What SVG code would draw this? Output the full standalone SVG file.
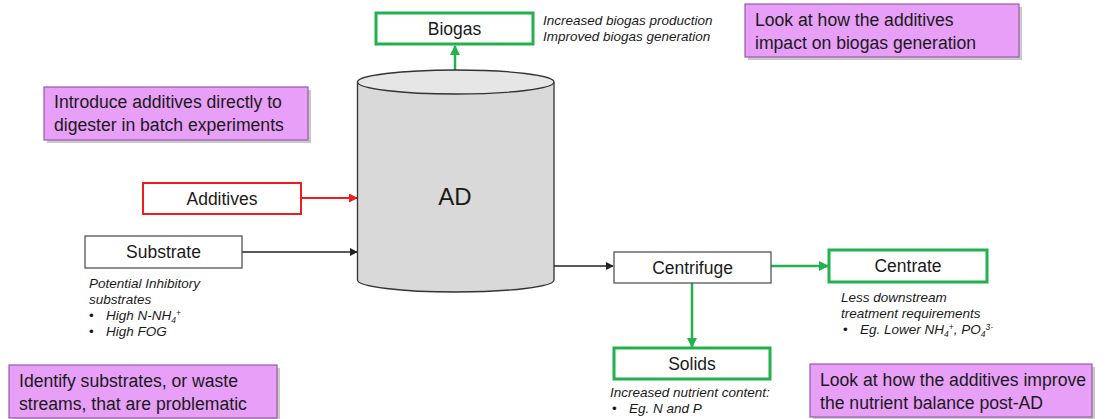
<svg xmlns="http://www.w3.org/2000/svg" width="1119" height="419" viewBox="0 0 1119 419">
<defs>
<style>
text{font-family:"Liberation Sans",Arial,sans-serif;fill:#1a1a1a}
.lbl{font-size:17.5px;text-anchor:middle}
.note{font-size:17.6px}
.it{font-size:13.5px;font-style:italic}
.pbox{fill:#e79ff7;stroke:#9a5aa8;stroke-width:1.2}
.shadow{fill:#888;opacity:0.45}
.gbox{fill:#fff;stroke:#22b14c;stroke-width:3}
.rbox{fill:#fff;stroke:#ee1c1c;stroke-width:2}
.bbox{fill:#fff;stroke:#555;stroke-width:1.3}
.cg{stroke:#22b14c;stroke-width:2.5;fill:none}
.cr{stroke:#ee1c1c;stroke-width:2;fill:none}
.ck{stroke:#222;stroke-width:1.3;fill:none}
</style>
<marker id="ag" viewBox="0 0 10 10" refX="9" refY="5" markerWidth="4" markerHeight="4" orient="auto" markerUnits="strokeWidth"><path d="M0,0L10,5L0,10z" fill="#22b14c"/></marker>
<marker id="ar" viewBox="0 0 10 10" refX="9" refY="5" markerWidth="4.5" markerHeight="4.5" orient="auto" markerUnits="strokeWidth"><path d="M0,0L10,5L0,10z" fill="#ee1c1c"/></marker>
<marker id="ak" viewBox="0 0 10 10" refX="9" refY="5" markerWidth="6" markerHeight="6" orient="auto" markerUnits="strokeWidth"><path d="M0,0L10,5L0,10z" fill="#222"/></marker>
</defs>
<rect width="1119" height="419" fill="#fff"/>

<g id="connectors">
<line class="cg" x1="455" y1="77" x2="455" y2="46" marker-end="url(#ag)"/>
<line class="cr" x1="301" y1="198" x2="357" y2="198" marker-end="url(#ar)"/>
<line class="ck" x1="242" y1="252" x2="357" y2="252" marker-end="url(#ak)"/>
<line class="ck" x1="554" y1="266" x2="613" y2="266" marker-end="url(#ak)"/>
<line class="cg" x1="771" y1="266" x2="828" y2="266" marker-end="url(#ag)"/>
<line class="cg" x1="692" y1="283" x2="692" y2="347" marker-end="url(#ag)"/>
</g>

<g id="AD">
<path d="M357.5,82 L357.5,280 A98.25,12 0 0 0 554,280 L554,82" fill="#d9d9d9" stroke="#333" stroke-width="1.3"/>
<ellipse cx="455.75" cy="82" rx="98.25" ry="12" fill="#e6e6e6" stroke="#333" stroke-width="1.3"/>
<text x="455" y="205" font-size="24" text-anchor="middle">AD</text>
</g>

<g id="Biogas">
<rect class="gbox" x="376" y="13" width="157" height="31"/>
<text class="lbl" x="454.5" y="35">Biogas</text>
<text class="it" x="543" y="25">Increased biogas production</text>
<text class="it" x="543" y="41">Improved biogas generation</text>
</g>

<g id="Additives">
<rect class="rbox" x="143" y="183" width="158" height="31"/>
<text class="lbl" x="222" y="205">Additives</text>
</g>

<g id="Substrate">
<rect class="bbox" x="85" y="236" width="157" height="32"/>
<text class="lbl" x="163.5" y="258">Substrate</text>
<text class="it" x="89" y="288">Potential Inhibitory</text>
<text class="it" x="89" y="304">substrates</text>
<text class="it" x="89" y="320"><tspan font-style="normal">•</tspan><tspan x="106">High N-NH</tspan><tspan font-size="8.5" dy="3">4</tspan><tspan font-size="8.5" dy="-7">+</tspan></text>
<text class="it" x="89" y="336"><tspan font-style="normal">•</tspan><tspan x="106">High FOG</tspan></text>
</g>

<g id="Centrifuge">
<rect class="bbox" x="614" y="252" width="157" height="31"/>
<text class="lbl" x="692.5" y="274">Centrifuge</text>
</g>

<g id="Centrate">
<rect class="gbox" x="829" y="250" width="158" height="32"/>
<text class="lbl" x="908" y="272">Centrate</text>
<text class="it" x="841" y="302">Less downstream</text>
<text class="it" x="841" y="318">treatment requirements</text>
<text class="it" x="843" y="334"><tspan font-style="normal">•</tspan><tspan x="860">Eg. Lower NH</tspan><tspan font-size="8.5" dy="3">4</tspan><tspan font-size="8.5" dy="-7">+</tspan><tspan dy="4">, PO</tspan><tspan font-size="8.5" dy="3">4</tspan><tspan font-size="8.5" dy="-7">3-</tspan></text>
</g>

<g id="Solids">
<rect class="gbox" x="614" y="348" width="156" height="31"/>
<text class="lbl" x="692" y="370">Solids</text>
<text class="it" x="610" y="397">Increased nutrient content:</text>
<text class="it" x="612" y="413"><tspan font-style="normal">•</tspan><tspan x="629">Eg. N and P</tspan></text>
</g>

<g id="note-introduce">
<rect class="shadow" x="47" y="90" width="264" height="53"/>
<rect class="pbox" x="44" y="87" width="264" height="53"/>
<text class="note" x="54" y="108">Introduce additives directly to</text>
<text class="note" x="54" y="131">digester in batch experiments</text>
</g>

<g id="note-biogas">
<rect class="shadow" x="748" y="7" width="274" height="53"/>
<rect class="pbox" x="745" y="4" width="274" height="53"/>
<text class="note" x="755" y="26">Look at how the additives</text>
<text class="note" x="755" y="49">impact on biogas generation</text>
</g>

<g id="note-substrates">
<rect class="shadow" x="12" y="368" width="268" height="53"/>
<rect class="pbox" x="9" y="365" width="268" height="53"/>
<text class="note" x="19" y="387">Identify substrates, or waste</text>
<text class="note" x="19" y="410">streams, that are problematic</text>
</g>

<g id="note-nutrient">
<rect class="shadow" x="813" y="367" width="282" height="53"/>
<rect class="pbox" x="810" y="364" width="282" height="53"/>
<text class="note" x="820" y="386">Look at how the additives improve</text>
<text class="note" x="820" y="409">the nutrient balance post-AD</text>
</g>
</svg>
